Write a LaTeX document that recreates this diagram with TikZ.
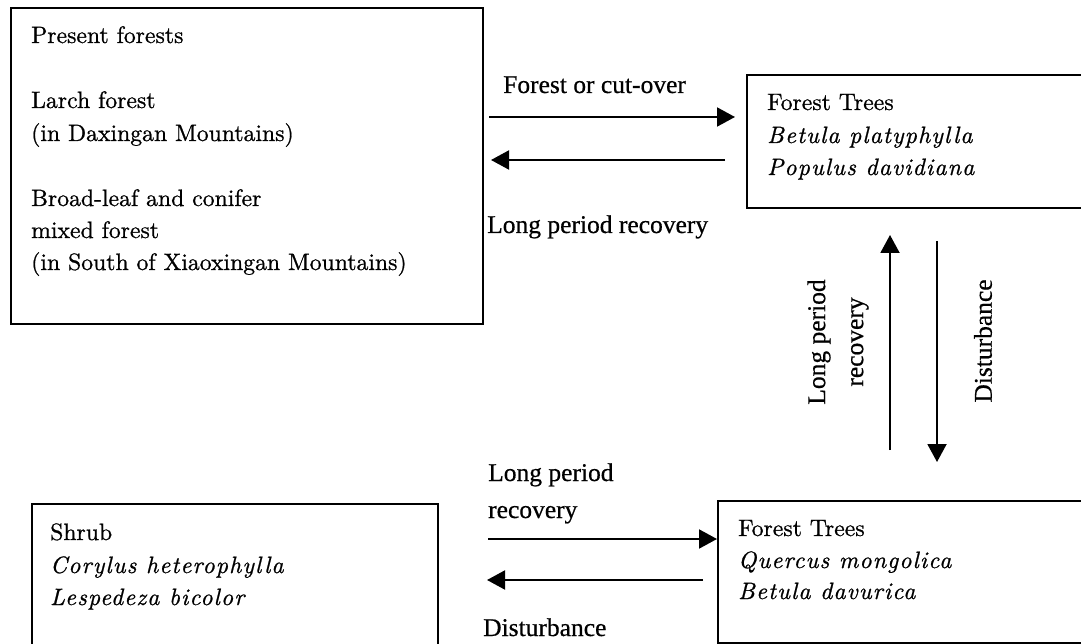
\documentclass[tikz,border=0pt]{standalone}
\usepackage{fontspec}
\usetikzlibrary{arrows.meta}
\newfontfamily\timesf{Liberation Serif}[FakeBold=0.6]
\newfontfamily\cent{lmroman10-regular.otf}[FakeBold=0.8,ItalicFont=lmroman10-italic.otf,ItalicFeatures={LetterSpace=5}]
\newcommand\bxfont{\cent\fontsize{23.7}{33}\selectfont}
\newcommand\lbfont{\timesf\fontsize{25.5}{38}\selectfont}
\tikzset{
  boxframe/.style={draw, line width=2pt, inner sep=0pt, anchor=north west},
  boxtxt/.style={anchor=base west, inner sep=0pt, font=\bxfont},
  lbl/.style={anchor=base west, inner sep=0pt, font=\lbfont},
  vlbl/.style={anchor=center, inner sep=0pt, font=\lbfont, rotate=90, align=center},
  arr/.style={line width=2pt, -{Triangle[length=18pt,width=19pt]}},
}
\begin{document}
\begin{tikzpicture}[x=1pt,y=-1pt]
\path[use as bounding box] (0,0) rectangle (1081,644);
\clip (0,0) rectangle (1081,644);
% boxes
\node[boxframe, minimum width=472pt, minimum height=316pt] (b1) at (10,7) {};
\node[boxframe, minimum width=345pt, minimum height=133pt] (b2) at (746,74) {};
\node[boxframe, minimum width=406pt, minimum height=160pt] (b3) at (31,503) {};
\node[boxframe, minimum width=375pt, minimum height=142pt] (b4) at (717,500) {};
% box 1 text
\node[boxtxt] (t11) at (31,43) {Present forests};
\node[boxtxt] (t12) at (31,108) {Larch forest};
\node[boxtxt] (t13) at (31,141) {(in Daxingan Mountains)};
\node[boxtxt] (t14) at (31,206) {Broad-leaf and conifer};
\node[boxtxt] (t15) at (31,238) {mixed forest};
\node[boxtxt] (t16) at (31,270) {(in South of Xiaoxingan Mountains)};
% box 2 text
\node[boxtxt] (t21) at (767,110) {Forest Trees};
\node[boxtxt] (t22) at (767,143) {\itshape Betula platyphylla};
\node[boxtxt] (t23) at (767,175) {\itshape Populus davidiana};
% box 3 text
\node[boxtxt] (t31) at (50,540) {Shrub};
\node[boxtxt] (t32) at (50,573) {\itshape Corylus heterophylla};
\node[boxtxt] (t33) at (50,605) {\itshape Lespedeza bicolor};
% box 4 text
\node[boxtxt] (t41) at (738,536) {Forest Trees};
\node[boxtxt] (t42) at (738,568) {\itshape Quercus mongolica};
\node[boxtxt] (t43) at (738,599) {\itshape Betula davurica};
% arrow end points
\coordinate (a1s) at (489,117);
\coordinate (a1e) at (735,117);
\coordinate (a2s) at (725,160);
\coordinate (a2e) at (491,160);
\coordinate (a3s) at (890,450);
\coordinate (a3e) at (890,235);
\coordinate (a4s) at (937,241);
\coordinate (a4e) at (937,462);
\coordinate (a5s) at (488,539);
\coordinate (a6s) at (703,580);
\coordinate (a6e) at (487,580);
% arrows
\draw[arr] (a1s) -- (a1e);
\draw[arr] (a2s) -- (a2e);
\draw[arr] (a3s) -- (a3e);
\draw[arr] (a4s) -- (a4e);
\draw[arr] (a5s) -- (b4.west |- a5s);
\draw[arr] (a6s) -- (a6e);
% labels
\node[lbl] (l1) at (503,93) {Forest or cut-over};
\node[lbl] (l2) at (487,233) {Long period recovery};
\node[vlbl] (l3) at (838,342) {Long period\\recovery};
\node[vlbl] (l4) at (983,341) {Disturbance};
\node[lbl] (l5) at (488,481) {Long period};
\node[lbl] (l6) at (488,518) {recovery};
\node[lbl] (l7) at (483,636) {Disturbance};
\end{tikzpicture}
\end{document}
